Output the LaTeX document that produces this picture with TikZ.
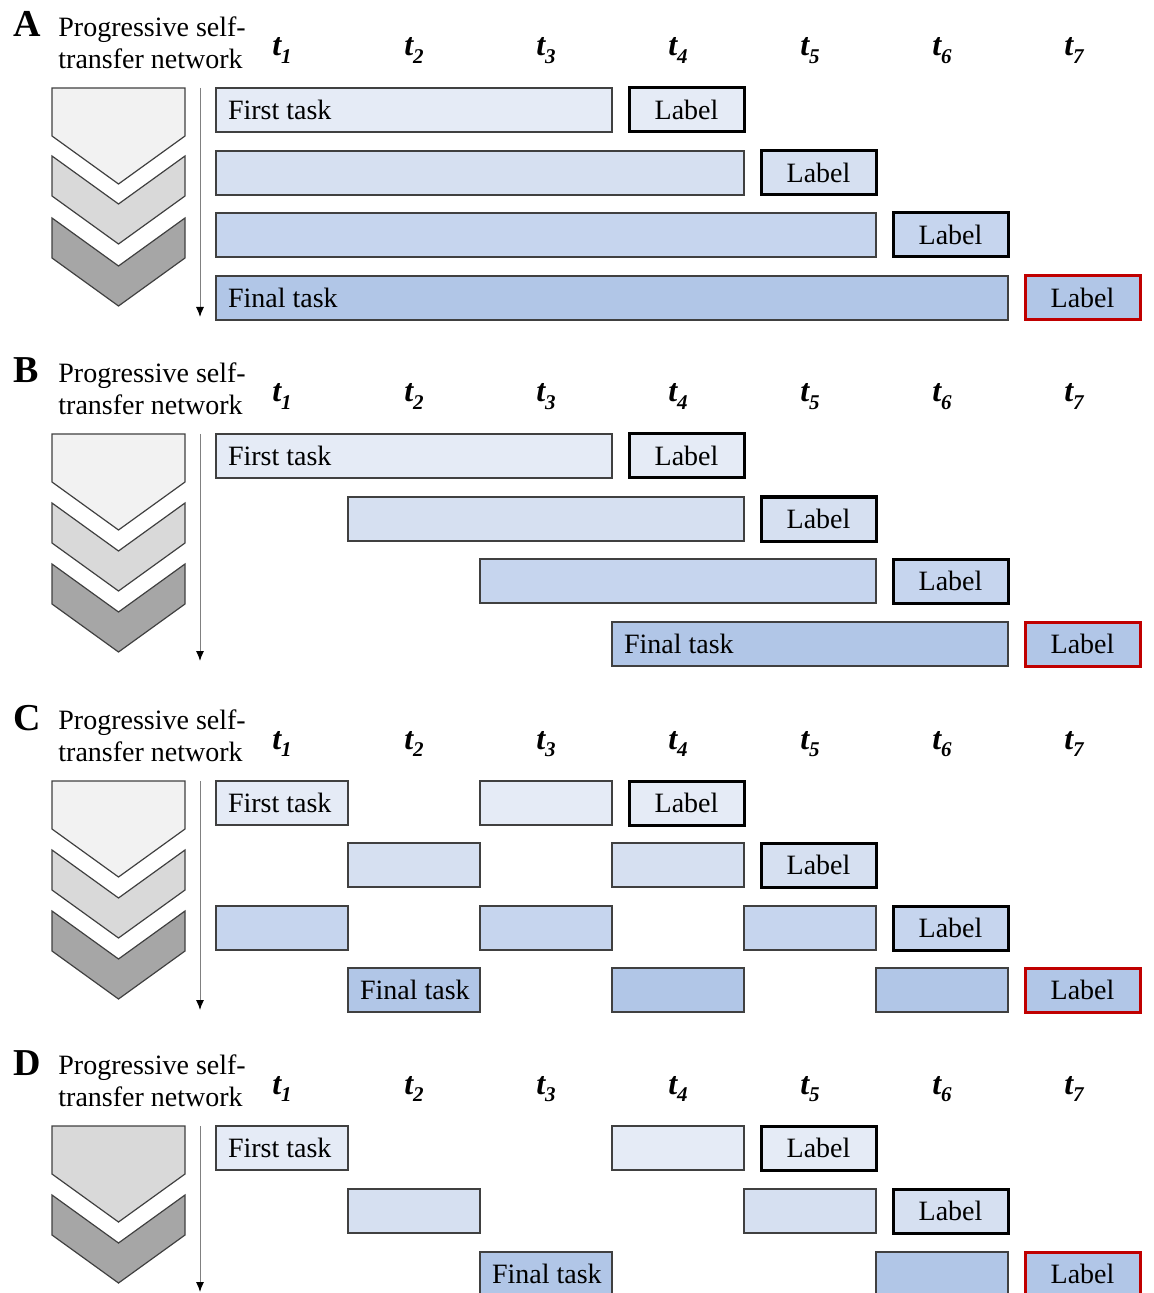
\documentclass[tikz,border=0pt]{standalone}
\usepackage{fontspec}
\setmainfont{Liberation Serif}
\usetikzlibrary{arrows.meta}

\definecolor{edgegray}{HTML}{404040}
\definecolor{labelred}{HTML}{C00000}
\definecolor{rowOne}{HTML}{E5EBF6}
\definecolor{rowTwo}{HTML}{D6E0F1}
\definecolor{rowThree}{HTML}{C6D5EE}
\definecolor{rowFour}{HTML}{B1C6E7}
\definecolor{chevLight}{HTML}{F2F2F2}
\definecolor{chevMid}{HTML}{D9D9D9}
\definecolor{chevDark}{HTML}{A6A6A6}

\tikzset{
  chev/.style={draw=edgegray,line width=0.6pt,line join=miter},
  taskbox/.style={rectangle,draw=edgegray,line width=0.7pt,anchor=north west,outer sep=0pt,
    inner xsep=6pt,inner ysep=0pt,minimum height=22pt},
  labelbox/.style={rectangle,draw=black,line width=1.5pt,anchor=north west,outer sep=0pt,
    inner sep=0pt,minimum height=22pt,minimum width=57.5pt},
  finalbox/.style={labelbox,draw=labelred},
  timeline/.style={draw=gray,line width=0.5pt,-{Latex[length=5pt,width=4pt,color=black]}},
  tick/.style={anchor=base,inner sep=0pt,font=\bfseries\itshape\fontsize{16}{18}\selectfont},
}

\newcommand{\drawTask}[6]{% name, first column, last column, top y, fill, text
  \pgfmathsetmacro{\tx}{216+132*(#2-1)}
  \pgfmathsetmacro{\tw}{66*(#3-#2+1)-12}
  \node[taskbox,fill=#5] (#1) at (\tx,#4) {\makebox[\tw pt][l]{#6}};
}
\newcommand{\drawLabel}[5]{% name, column, top y, fill, style
  \pgfmathsetmacro{\lx}{216+132*(#2-1)+17}
  \node[#5,fill=#4] (#1) at (\lx,#3) {Label};
}
\newcommand{\drawHead}[2]{% top y, fill
  \draw[chev,fill=#2] (52,#1) -- (185,#1) -- (185,#1+48) -- (118.5,#1+96) -- (52,#1+48) -- cycle;
}
\newcommand{\drawChev}[2]{% top y, fill
  \draw[chev,fill=#2] (52,#1) -- (118.5,#1+48) -- (185,#1) -- (185,#1+40) -- (118.5,#1+88) -- (52,#1+40) -- cycle;
}
\newcommand{\drawHeader}[3]{% letter, top y of first row, arrow length
  \node[anchor=base west,inner sep=0pt,font=\bfseries\fontsize{19}{22}\selectfont] (hdr#1) at (13,#2-51) {#1};
  \node[anchor=north west,align=left,inner sep=0pt] (net#1) at (58,#2-72) {Progressive self-\\transfer network};
  \foreach \i in {1,...,7}
    \node[tick] (t#1\i) at (150+132*\i,#2-32) {t\raisebox{-0.22em}{\fontsize{10.5}{11}\selectfont\i}};
  \coordinate (top#1) at (200,#2);
  \coordinate (end#1) at (200,#2+#3);
  \draw[timeline] (top#1) -- (end#1);
}

\begin{document}
\begin{tikzpicture}[x=0.5pt,y=-0.5pt,font=\fontsize{14}{16}\selectfont]
\useasboundingbox (0,0) rectangle (1154,1293);

% Panel A
\drawHeader{A}{88}{229}
\drawHead{88}{chevLight}
\drawChev{156}{chevMid}
\drawChev{218}{chevDark}
\drawTask{A1}{1}{3}{88}{rowOne}{First task}
\drawTask{A2}{1}{4}{151}{rowTwo}{}
\drawTask{A3}{1}{5}{213}{rowThree}{}
\drawTask{A4}{1}{6}{276}{rowFour}{Final task}
\drawLabel{lA1}{4}{88}{rowOne}{labelbox}
\drawLabel{lA2}{5}{151}{rowTwo}{labelbox}
\drawLabel{lA3}{6}{213}{rowThree}{labelbox}
\drawLabel{lA4}{7}{276}{rowFour}{finalbox}

% Panel B
\drawHeader{B}{434}{227}
\drawHead{434}{chevLight}
\drawChev{503}{chevMid}
\drawChev{564}{chevDark}
\drawTask{B1}{1}{3}{434}{rowOne}{First task}
\drawTask{B2}{2}{4}{497}{rowTwo}{}
\drawTask{B3}{3}{5}{559}{rowThree}{}
\drawTask{B4}{4}{6}{622}{rowFour}{Final task}
\drawLabel{lB1}{4}{434}{rowOne}{labelbox}
\drawLabel{lB2}{5}{497}{rowTwo}{labelbox}
\drawLabel{lB3}{6}{559}{rowThree}{labelbox}
\drawLabel{lB4}{7}{622}{rowFour}{finalbox}

% Panel C
\drawHeader{C}{781}{229}
\drawHead{781}{chevLight}
\drawChev{850}{chevMid}
\drawChev{911}{chevDark}
\drawTask{C1a}{1}{1}{781}{rowOne}{First task}
\drawTask{C1b}{3}{3}{781}{rowOne}{}
\drawTask{C2a}{2}{2}{843}{rowTwo}{}
\drawTask{C2b}{4}{4}{843}{rowTwo}{}
\drawTask{C3a}{1}{1}{906}{rowThree}{}
\drawTask{C3b}{3}{3}{906}{rowThree}{}
\drawTask{C3c}{5}{5}{906}{rowThree}{}
\drawTask{C4a}{2}{2}{968}{rowFour}{Final task}
\drawTask{C4b}{4}{4}{968}{rowFour}{}
\drawTask{C4c}{6}{6}{968}{rowFour}{}
\drawLabel{lC1}{4}{781}{rowOne}{labelbox}
\drawLabel{lC2}{5}{843}{rowTwo}{labelbox}
\drawLabel{lC3}{6}{906}{rowThree}{labelbox}
\drawLabel{lC4}{7}{968}{rowFour}{finalbox}

% Panel D
\drawHeader{D}{1126}{166}
\drawHead{1126}{chevMid}
\drawChev{1195}{chevDark}
\drawTask{D1a}{1}{1}{1126}{rowOne}{First task}
\drawTask{D1b}{4}{4}{1126}{rowOne}{}
\drawTask{D2a}{2}{2}{1189}{rowTwo}{}
\drawTask{D2b}{5}{5}{1189}{rowTwo}{}
\drawTask{D3a}{3}{3}{1252}{rowFour}{Final task}
\drawTask{D3b}{6}{6}{1252}{rowFour}{}
\drawLabel{lD1}{5}{1126}{rowOne}{labelbox}
\drawLabel{lD2}{6}{1189}{rowTwo}{labelbox}
\drawLabel{lD3}{7}{1252}{rowFour}{finalbox}

\end{tikzpicture}
\end{document}
